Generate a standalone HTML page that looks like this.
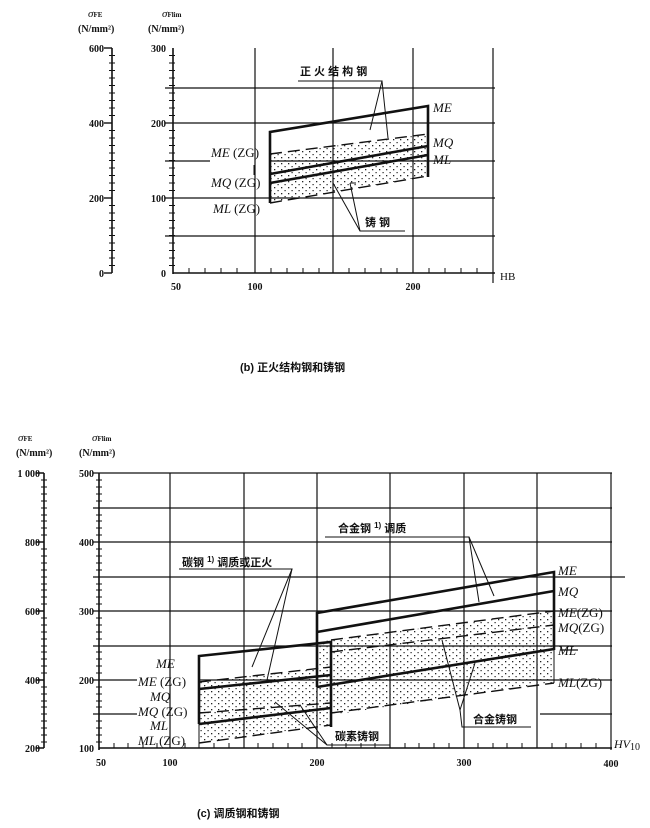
<!DOCTYPE html>
<html><head><meta charset="utf-8"><style>
html,body{margin:0;padding:0;background:#fff}
svg{display:block}
text{font-family:"Liberation Serif","Noto Serif CJK SC",serif;fill:#111}
.c{font-family:"Liberation Sans","Noto Sans CJK SC",sans-serif;font-weight:bold;font-size:11px}
.n{font-family:"Liberation Serif",serif;font-weight:bold;font-size:10px}
.i{font-family:"Liberation Serif",serif;font-style:italic;font-size:13px}
</style></head><body>
<svg width="650" height="828" viewBox="0 0 650 828" xmlns="http://www.w3.org/2000/svg">
<defs>
<pattern id="dots" width="7" height="6" patternUnits="userSpaceOnUse">
<rect x="1" y="1" width="1.3" height="1.3" fill="#222"/>
<rect x="4.5" y="4" width="1.2" height="1.2" fill="#222"/>
</pattern>
</defs>

<!-- ================= TOP CHART ================= -->
<g stroke="#111" fill="none">
<!-- grid -->
<g stroke-width="1.2">
<line x1="165" y1="88" x2="495" y2="88"/>
<line x1="165" y1="123" x2="495" y2="123"/>
<line x1="165" y1="161" x2="210" y2="161"/>
<line x1="270" y1="161" x2="495" y2="161"/>
<line x1="165" y1="198" x2="495" y2="198"/>
<line x1="165" y1="236" x2="495" y2="236"/>
<line x1="255" y1="48" x2="255" y2="273"/>
<line x1="333" y1="48" x2="333" y2="273"/>
<line x1="413" y1="48" x2="413" y2="273"/>
<line x1="493" y1="48" x2="493" y2="283"/>
</g>
<!-- axes -->
<line x1="173" y1="48" x2="173" y2="274" stroke-width="1.6"/>
<line x1="173" y1="273" x2="495" y2="273" stroke-width="1.6"/>
<line x1="112" y1="48" x2="112" y2="273" stroke-width="1.6"/>
<line x1="104" y1="48" x2="112" y2="48" stroke-width="1.4"/>
<line x1="104" y1="123" x2="112" y2="123" stroke-width="1.4"/>
<line x1="104" y1="198" x2="112" y2="198" stroke-width="1.4"/>
<line x1="104" y1="273" x2="112" y2="273" stroke-width="1.4"/>
</g>
<g stroke="#111" stroke-width="1">
<!-- minor ticks generated -->
<path d="M109 55.5h6M109 63h6M109 70.5h6M109 78h6M109 85.5h6M109 93h6M109 100.5h6M109 108h6M109 115.5h6M109 130.5h6M109 138h6M109 145.5h6M109 153h6M109 160.5h6M109 168h6M109 175.5h6M109 183h6M109 190.5h6M109 205.5h6M109 213h6M109 220.5h6M109 228h6M109 235.5h6M109 243h6M109 250.5h6M109 258h6M109 265.5h6"/>
<path d="M169 55.5h6M169 63h6M169 70.5h6M169 78h6M169 85.5h6M169 93h6M169 100.5h6M169 108h6M169 115.5h6M169 130.5h6M169 138h6M169 145.5h6M169 153h6M169 160.5h6M169 168h6M169 175.5h6M169 183h6M169 190.5h6M169 205.5h6M169 213h6M169 220.5h6M169 228h6M169 235.5h6M169 243h6M169 250.5h6M169 258h6M169 265.5h6M169 123h6M169 198h6"/>
<path d="M189 273v-5M205 273v-5M221 273v-5M237 273v-5M271 273v-5M287 273v-5M303 273v-5M319 273v-5M349 273v-5M365 273v-5M381 273v-5M397 273v-5M429 273v-5M445 273v-5M461 273v-5M477 273v-5"/>
</g>
<!-- dotted region top -->
<polygon points="270,154 428,134 428,176 270,203" fill="url(#dots)"/>
<g stroke="#111" fill="none">
<polyline points="270,203 270,132 428,106 428,177" stroke-width="2.6"/>
<line x1="270" y1="174" x2="428" y2="146" stroke-width="2.6"/>
<line x1="270" y1="183" x2="428" y2="155" stroke-width="2.6"/>
<line x1="270" y1="154" x2="428" y2="134" stroke-width="1.4" stroke-dasharray="12,6"/>
<line x1="270" y1="203" x2="428" y2="176" stroke-width="1.4" stroke-dasharray="12,6"/>
<line x1="270" y1="203" x2="270" y2="183" stroke-width="1"/>
<line x1="428" y1="134" x2="428" y2="177" stroke-width="1"/>
<line x1="254" y1="165" x2="254" y2="175" stroke-width="1"/>
<!-- annotations -->
<polyline points="298,81 382,81 370,130" stroke-width="1"/>
<line x1="382" y1="81" x2="388" y2="138" stroke-width="1"/>
<polyline points="405,231 360,231 333,183" stroke-width="1"/>
<line x1="360" y1="231" x2="350" y2="183" stroke-width="1"/>
<line x1="350" y1="183" x2="356" y2="183" stroke-width="1"/>
</g>
<text class="c" x="300" y="75">正 火 结 构 钢</text>
<text class="c" x="365" y="226">铸 钢</text>
<text class="i" x="433" y="112">ME</text>
<text class="i" x="433" y="147">MQ</text>
<text class="i" x="433" y="164">ML</text>
<text class="i" x="211" y="157">ME <tspan font-style="normal">(ZG)</tspan></text>
<text class="i" x="211" y="187">MQ <tspan font-style="normal">(ZG)</tspan></text>
<text class="i" x="213" y="213">ML <tspan font-style="normal">(ZG)</tspan></text>
<g class="n" text-anchor="end">
<text x="104" y="52">600</text><text x="104" y="127">400</text><text x="104" y="202">200</text><text x="104" y="277">0</text>
<text x="166" y="52">300</text><text x="166" y="127">200</text><text x="166" y="202">100</text><text x="166" y="277">0</text>
</g>
<g class="n" text-anchor="middle">
<text x="176" y="290">50</text><text x="255" y="290">100</text><text x="413" y="290">200</text>
</g>
<text x="500" y="280" font-family="Liberation Sans" font-size="11">HB</text>
<text x="88" y="17" font-size="11" font-style="italic">σ<tspan font-size="7" font-style="normal" font-weight="bold">FE</tspan></text>
<text x="78" y="32" class="n" font-size="11">(N/mm²)</text>
<text x="162" y="17" font-size="11" font-style="italic">σ<tspan font-size="7" font-style="normal" font-weight="bold">Flim</tspan></text>
<text x="148" y="32" class="n" font-size="11">(N/mm²)</text>
<text x="240" y="371" class="c" font-weight="normal" font-size="12">(b)  正火结构钢和铸钢</text>

<!-- ================= BOTTOM CHART ================= -->
<g stroke="#111" fill="none" stroke-width="1.2">
<line x1="93" y1="473" x2="612" y2="473"/>
<line x1="93" y1="508" x2="612" y2="508"/>
<line x1="93" y1="542" x2="612" y2="542"/>
<line x1="93" y1="577" x2="625" y2="577"/>
<line x1="93" y1="611" x2="612" y2="611"/>
<line x1="93" y1="646" x2="612" y2="646"/>
<line x1="560" y1="650" x2="578" y2="650"/>
<line x1="93" y1="680" x2="137" y2="680"/>
<line x1="200" y1="680" x2="612" y2="680"/>
<line x1="93" y1="714" x2="137" y2="714"/>
<line x1="540" y1="714" x2="612" y2="714"/>
<line x1="170" y1="473" x2="170" y2="748"/>
<line x1="244" y1="473" x2="244" y2="748"/>
<line x1="317" y1="473" x2="317" y2="748"/>
<line x1="390" y1="473" x2="390" y2="748"/>
<line x1="464" y1="473" x2="464" y2="748"/>
<line x1="537" y1="473" x2="537" y2="748"/>
<line x1="611" y1="473" x2="611" y2="750"/>
<line x1="99" y1="473" x2="99" y2="750" stroke-width="1.6"/>
<line x1="99" y1="748" x2="612" y2="748" stroke-width="1.6"/>
<line x1="44" y1="473" x2="44" y2="748" stroke-width="1.6"/>
<path d="M36 473h8M36 542h8M36 611h8M36 680h8M36 748h8" stroke-width="1.4"/>
</g>
<g stroke="#111" stroke-width="1">
<path d="M41 480h6M41 487h6M41 494h6M41 501h6M41 508h6M41 515h6M41 521h6M41 528h6M41 535h6M41 549h6M41 556h6M41 563h6M41 570h6M41 577h6M41 584h6M41 590h6M41 597h6M41 604h6M41 618h6M41 625h6M41 632h6M41 639h6M41 646h6M41 652h6M41 659h6M41 666h6M41 673h6M41 687h6M41 694h6M41 701h6M41 707h6M41 714h6M41 721h6M41 728h6M41 735h6M41 742h6"/>
<path d="M96 480h6M96 487h6M96 494h6M96 501h6M96 508h6M96 515h6M96 521h6M96 528h6M96 535h6M96 542h6M96 549h6M96 556h6M96 563h6M96 570h6M96 577h6M96 584h6M96 590h6M96 597h6M96 604h6M96 611h6M96 618h6M96 625h6M96 632h6M96 639h6M96 646h6M96 652h6M96 659h6M96 666h6M96 673h6M96 680h6M96 687h6M96 694h6M96 701h6M96 707h6M96 714h6M96 721h6M96 728h6M96 735h6M96 742h6"/>
<path d="M114 748v-5M128 748v-5M143 748v-5M157 748v-5M185 748v-5M199 748v-5M214 748v-5M229 748v-5M258 748v-5M273 748v-5M288 748v-5M302 748v-5M332 748v-5M346 748v-5M361 748v-5M375 748v-5M405 748v-5M419 748v-5M434 748v-5M449 748v-5M478 748v-5M493 748v-5M507 748v-5M522 748v-5M552 748v-5M566 748v-5M581 748v-5M596 748v-5"/>
</g>
<!-- dotted regions -->
<polygon points="199,682 331,667 331,725 199,743" fill="url(#dots)"/>
<polygon points="317,642 554,611 554,683 317,717" fill="url(#dots)"/>
<g stroke="#111" fill="none">
<!-- carbon steel -->
<polyline points="199,724 199,656 331,642 331,727" stroke-width="2.6"/>
<line x1="199" y1="689" x2="331" y2="675" stroke-width="2.6"/>
<line x1="199" y1="724" x2="331" y2="708" stroke-width="2.6"/>
<line x1="199" y1="682" x2="331" y2="667" stroke-width="1.4" stroke-dasharray="12,6"/>
<line x1="199" y1="713" x2="331" y2="703" stroke-width="1.4" stroke-dasharray="12,6"/>
<line x1="199" y1="743" x2="331" y2="725" stroke-width="1.4" stroke-dasharray="12,6"/>
<line x1="199" y1="724" x2="199" y2="743" stroke-width="1"/>
<!-- alloy -->
<polyline points="317,687 317,613 554,572 554,650" stroke-width="2.6"/>
<line x1="317" y1="632" x2="554" y2="591" stroke-width="2.6"/>
<line x1="317" y1="687" x2="554" y2="649" stroke-width="2.6"/>
<line x1="331" y1="640" x2="554" y2="611" stroke-width="1.4" stroke-dasharray="12,6"/>
<line x1="331" y1="652" x2="554" y2="625" stroke-width="1.4" stroke-dasharray="12,6"/>
<line x1="331" y1="713" x2="554" y2="683" stroke-width="1.4" stroke-dasharray="12,6"/>
<line x1="554" y1="650" x2="554" y2="683" stroke-width="1"/>
<!-- annotations -->
<polyline points="179,569 292,569 252,667" stroke-width="1"/>
<line x1="292" y1="569" x2="267" y2="680" stroke-width="1"/>
<polyline points="325,537 469,537 479,602" stroke-width="1"/>
<line x1="469" y1="537" x2="494" y2="596" stroke-width="1"/>
<polyline points="531,727 462,727 460,710 442,640" stroke-width="1"/>
<line x1="460" y1="710" x2="475" y2="663" stroke-width="1"/>
<polyline points="390,745 327,745 300,705" stroke-width="1"/>
<line x1="327" y1="745" x2="275" y2="702" stroke-width="1"/>
<line x1="390" y1="740" x2="390" y2="748" stroke-width="1"/>
</g>
<text class="c" x="182" y="566">碳钢 <tspan font-size="8" dy="-4">1)</tspan><tspan dy="4"> 调质或正火</tspan></text>
<text class="c" x="338" y="532">合金钢 <tspan font-size="8" dy="-4">1)</tspan><tspan dy="4"> 调质</tspan></text>
<text class="c" x="473" y="723">合金铸钢</text>
<text class="c" x="335" y="740">碳素铸钢</text>
<text class="i" x="558" y="575">ME</text>
<text class="i" x="558" y="596">MQ</text>
<text class="i" x="558" y="617">ME<tspan font-style="normal">(ZG)</tspan></text>
<text class="i" x="558" y="632">MQ<tspan font-style="normal">(ZG)</tspan></text>
<text class="i" x="558" y="655">ML</text>
<text class="i" x="558" y="687">ML<tspan font-style="normal">(ZG)</tspan></text>
<text class="i" x="156" y="668">ME</text>
<text class="i" x="138" y="686">ME <tspan font-style="normal">(ZG)</tspan></text>
<text class="i" x="150" y="701">MQ</text>
<text class="i" x="138" y="716">MQ <tspan font-style="normal">(ZG)</tspan></text>
<text class="i" x="150" y="730">ML</text>
<text class="i" x="138" y="745">ML <tspan font-style="normal">(ZG)</tspan></text>
<g class="n" text-anchor="end">
<text x="40" y="477">1 000</text><text x="40" y="546">800</text><text x="40" y="615">600</text><text x="40" y="684">400</text><text x="40" y="752">200</text>
<text x="94" y="477">500</text><text x="94" y="546">400</text><text x="94" y="615">300</text><text x="94" y="684">200</text><text x="94" y="752">100</text>
</g>
<g class="n" text-anchor="middle">
<text x="101" y="766">50</text><text x="170" y="766">100</text><text x="317" y="766">200</text><text x="464" y="766">300</text><text x="611" y="767">400</text>
</g>
<text x="614" y="748" font-family="Liberation Serif" font-style="italic" font-size="12">HV<tspan font-size="10" font-style="normal" dy="2">10</tspan></text>
<text x="18" y="441" font-size="11" font-style="italic">σ<tspan font-size="7" font-style="normal" font-weight="bold">FE</tspan></text>
<text x="16" y="456" class="n" font-size="11">(N/mm²)</text>
<text x="92" y="441" font-size="11" font-style="italic">σ<tspan font-size="7" font-style="normal" font-weight="bold">Flim</tspan></text>
<text x="79" y="456" class="n" font-size="11">(N/mm²)</text>
<text x="197" y="817" class="c" font-weight="normal" font-size="12">(c)  调质钢和铸钢</text>
</svg>
</body></html>
